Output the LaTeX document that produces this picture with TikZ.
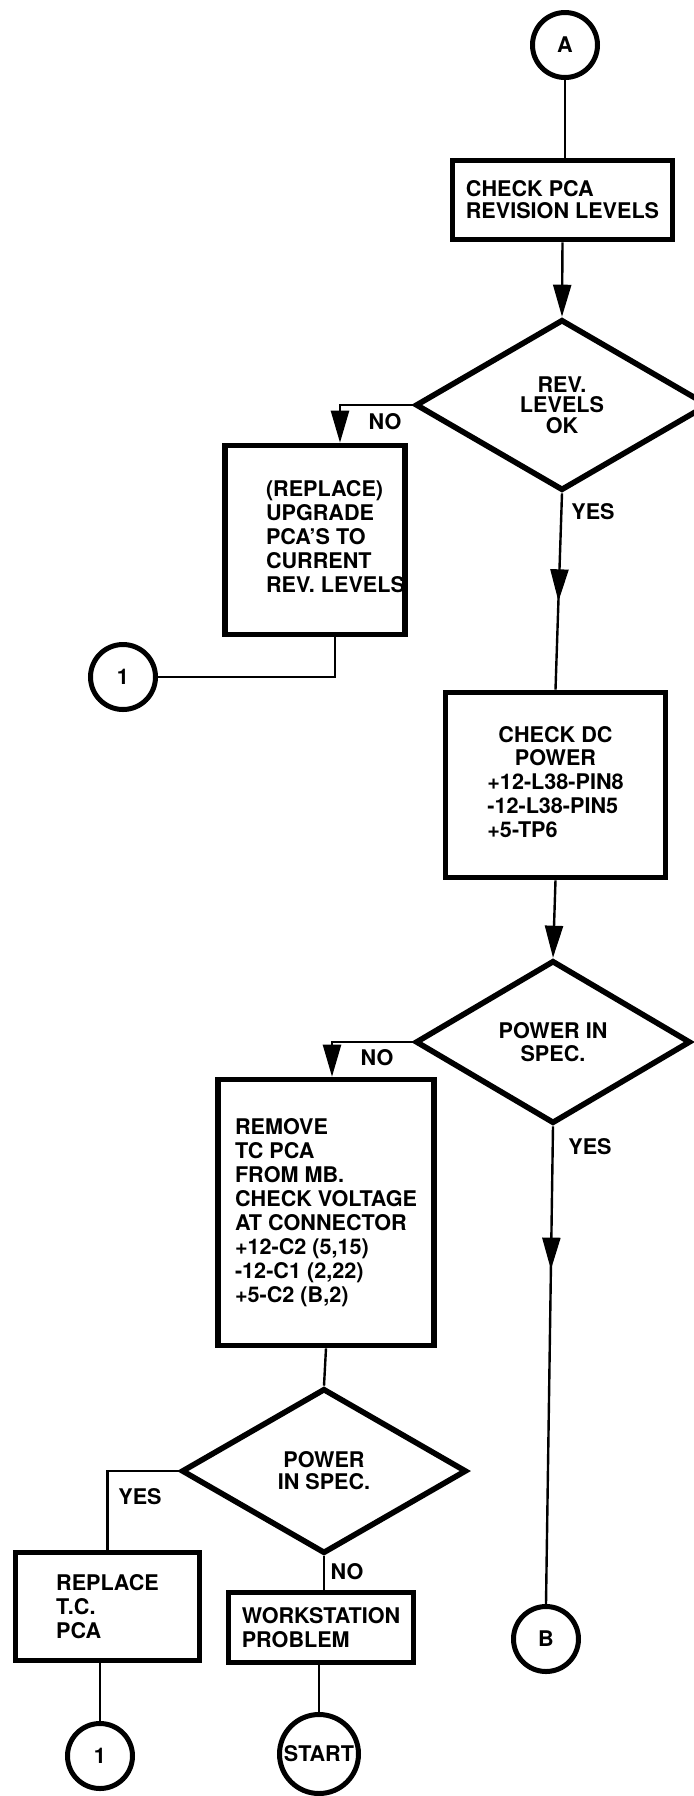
\documentclass[tikz,border=0pt]{standalone}
\usepackage{fontspec}
\setmainfont{TeX Gyre Heros}
\usetikzlibrary{arrows.meta,decorations.markings,shapes.geometric}
\tikzset{
  txt/.style={font=\fontsize{10.8}{12}\selectfont\bfseries},
  procbox/.style={draw, line width=2.8pt, rectangle, inner sep=0pt, txt, align=left},
  decbox/.style={draw, line width=2.8pt, diamond, inner sep=0pt, txt, align=center},
  conncircle/.style={draw, line width=2.5pt, circle, inner sep=0pt, minimum size=32.5pt, txt},
  conn/.style={line width=1.2pt},
  tipped/.style={conn, -{Triangle[width=9pt,length=16pt]}},
  midtip/.style={conn, postaction={decorate}, decoration={markings, mark=at position #1 with {\arrow{Triangle[width=9pt,length=16pt]}}}},
  lab/.style={txt, inner sep=0pt},
}
\begin{document}
\begin{tikzpicture}[x=0.5pt, y=-0.5pt]
\useasboundingbox (0,0) rectangle (694,1796);
\clip (0,0) rectangle (694,1796);

% nodes
\node[conncircle] (cA) at (565,45) {A};
\node[procbox, minimum width=110pt, minimum height=39.5pt, font=\fontsize{10.8}{11}\selectfont\bfseries] (b1) at (562.5,200) {CHECK PCA\\REVISION LEVELS};
\node[decbox, minimum width=146.5pt, minimum height=85.5pt, font=\fontsize{10.8}{10.3}\selectfont\bfseries] (d1) at (562,405) {REV.\\LEVELS\\OK};
\node[procbox, minimum width=86pt, minimum height=94.5pt] (b2) at (315,540) {\begin{tabular}{@{\hspace{20.5pt}}l@{}}(REPLACE)\\UPGRADE\\PCA'S TO\\CURRENT\\REV. LEVELS\end{tabular}};
\node[conncircle] (c1) at (123,677) {1};
\node[procbox, minimum width=110pt, minimum height=92.5pt, font=\fontsize{10.8}{11.9}\selectfont\bfseries] (b3) at (555.5,785) {\begin{tabular}{@{}l@{}}\multicolumn{1}{@{}c@{}}{CHECK DC}\\\multicolumn{1}{@{}c@{}}{POWER}\\+12-L38-PIN8\\-12-L38-PIN5\\+5-TP6\end{tabular}};
\node[decbox, minimum width=137.5pt, minimum height=81.5pt, font=\fontsize{10.8}{11.5}\selectfont\bfseries] (d2) at (553,1042) {POWER IN\\SPEC.};
\node[procbox, minimum width=108pt, minimum height=133pt] (b4) at (326,1212.5) {REMOVE\\TC PCA\\FROM MB.\\CHECK VOLTAGE\\AT CONNECTOR\\+12-C2 (5,15)\\-12-C1 (2,22)\\+5-C2 (B,2)};
\node[decbox, minimum width=142.5pt, minimum height=82.5pt, font=\fontsize{10.8}{11}\selectfont\bfseries] (d3) at (324,1471) {POWER\\IN SPEC.};
\node[procbox, minimum width=92pt, minimum height=54pt] (b5) at (107.5,1606.5) {REPLACE\\T.C.\\PCA};
\node[procbox, minimum width=92.5pt, minimum height=35pt] (b6) at (321,1627.5) {WORKSTATION\\PROBLEM};
\node[conncircle] (c1b) at (100,1756) {1};
\node[conncircle, minimum size=39.5pt] (start) at (319,1754) {START};
\node[conncircle] (cB) at (546,1639) {B};

% labels
\node[lab] (lno1) at (385,422) {NO};
\node[lab] (lyes1) at (593,512) {YES};
\node[lab] (lno2) at (377,1058) {NO};
\node[lab] (lyes2) at (590,1147) {YES};
\node[lab] (lyes3) at (140,1497) {YES};
\node[lab] (lno3) at (347,1572) {NO};

% connectors
\draw[conn] (cA) -- (cA |- b1.north);
\draw[tipped] (b1.south) -- (d1.north);
\draw[tipped] (d1.west) -| ([xshift=12.5pt]b2.north);
\draw[conn] ([xshift=10pt]b2.south) |- (c1.east);
\draw[midtip=0.55] (d1.south) -- (b3.north);
\draw[tipped] (b3.south) -- (d2.north);
\draw[tipped] (d2.west) -| ([xshift=3pt]b4.north);
\draw[midtip=0.3] (d2.south) -- (cB.north);
\draw[conn] (b4.south) -- (d3.north);
\draw[conn] (d3.west) -| (b5.north);
\draw[conn] (c1b |- b5.south) -- (c1b.north);
\draw[conn] (d3.south) -- (d3.south |- b6.north);
\draw[conn] (start |- b6.south) -- (start.north);
\end{tikzpicture}
\end{document}
